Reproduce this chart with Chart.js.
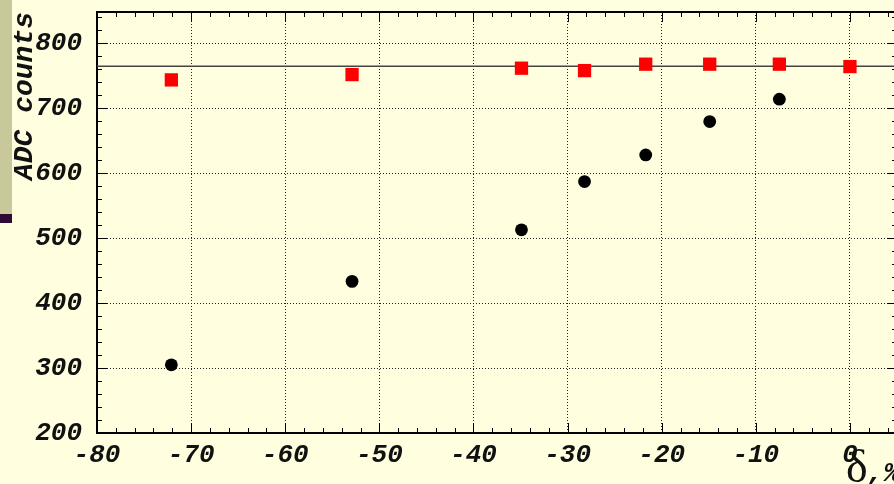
<!DOCTYPE html>
<html>
<head>
<meta charset="utf-8">
<script src="https://cdn.jsdelivr.net/npm/chart.js@4"></script>
<style>
  html, body { margin:0; padding:0; overflow:hidden; background:#ffffe0; }
  #wrap { position:relative; width:900px; height:484px; }
  .strip { position:absolute; left:0; top:0; width:12px; height:214px; background:#c9c89b; }
  .mark { position:absolute; left:0; top:214px; width:12px; height:9px; background:#2e0a36; }
</style>
</head>
<body>
<div id="wrap">
  <canvas id="chart" width="900" height="484" style="width:900px;height:484px"></canvas>
  <div class="strip"></div><div class="mark"></div>
</div>
<script>
// --- data ---
const deltaRed = [-72.1, -52.9, -34.9, -28.2, -21.7, -14.9, -7.5, 0];
const adcRed   = [743.5, 751.7, 761.5, 757.8, 767.7, 767.7, 767.7, 764];
const deltaBlack = [-72.1, -52.9, -34.9, -28.2, -21.7, -14.9, -7.5];
const adcBlack   = [305, 433.4, 512.8, 587, 628, 679.4, 713.8];
const refLevel = 764.6;

// axis ranges
const xMin = -80, xMax = 5;
const yMin = 200, yMax = 848;

const tickFont = { family: 'Liberation Mono', size: 26, style: 'italic', weight: 'bold' };
const titleFont = 'italic bold 28px "Liberation Mono"';

const toPoints = (xs, ys) => xs.map((v, i) => ({ x: v, y: ys[i] }));

// kill the label-overflow padding so the plot box sits where we want it
const noPad = s => { s.getPadding = () => ({ left: 0, right: 0, top: 0, bottom: 0 }); };

// frame, minor/mirrored ticks and axis titles
const framePlugin = {
  id: 'frame',
  afterDraw(chart) {
    const { ctx, chartArea: a, scales: { x, y } } = chart;
    ctx.save();
    ctx.strokeStyle = '#000';
    ctx.lineWidth = 2;
    ctx.beginPath();
    ctx.moveTo(a.left, a.top); ctx.lineTo(a.right, a.top); ctx.lineTo(a.right, a.bottom);
    ctx.stroke();

    ctx.lineWidth = 1;
    ctx.beginPath();
    for (let v = xMin; v <= xMax; v += 2) {
      const px = Math.round(x.getPixelForValue(v)) + 0.5;
      const len = v % 10 === 0 ? 10 : 5;
      ctx.moveTo(px, a.bottom); ctx.lineTo(px, a.bottom - len);
      ctx.moveTo(px, a.top); ctx.lineTo(px, a.top + len);
    }
    for (let v = yMin; v <= yMax; v += 20) {
      const py = Math.round(y.getPixelForValue(v)) + 0.5;
      const len = v % 100 === 0 ? 10 : 5;
      ctx.moveTo(a.left, py); ctx.lineTo(a.left + len, py);
      ctx.moveTo(a.right, py); ctx.lineTo(a.right - len, py);
    }
    ctx.stroke();

    // titles
    ctx.fillStyle = '#111';
    ctx.font = titleFont;
    ctx.save();
    ctx.translate(32, a.top);
    ctx.rotate(-Math.PI / 2);
    ctx.textAlign = 'right';
    ctx.textBaseline = 'alphabetic';
    ctx.fillText('ADC counts', 0, 0);
    ctx.restore();
    ctx.textAlign = 'left';
    ctx.textBaseline = 'alphabetic';
    ctx.font = '46px "Liberation Serif"';
    ctx.fillText('δ', 846, 482);
    ctx.font = titleFont;
    ctx.fillText(',%', 867, 481);
    ctx.restore();
  }
};

new Chart(document.getElementById('chart'), {
  type: 'scatter',
  data: {
    datasets: [
      {
        data: toPoints(deltaRed, adcRed),
        pointStyle: 'rect',
        pointRadius: 9.4,
        pointBackgroundColor: '#ff0000',
        pointBorderWidth: 0,
        order: 0
      },
      {
        data: toPoints(deltaBlack, adcBlack),
        pointStyle: 'circle',
        pointRadius: 6.4,
        pointBackgroundColor: '#000',
        pointBorderWidth: 0,
        order: 0
      },
      {
        type: 'line',
        data: toPoints([xMin, xMax], [refLevel, refLevel]),
        borderColor: '#444',
        borderWidth: 1.5,
        pointRadius: 0,
        order: 2
      }
    ]
  },
  options: {
    responsive: false,
    animation: false,
    layout: { autoPadding: false, padding: { top: 12, right: 3, left: 0, bottom: 0 } },
    plugins: { legend: { display: false }, tooltip: { enabled: false } },
    scales: {
      x: {
        type: 'linear',
        min: xMin, max: xMax,
        afterFit: s => { s.height = 51; noPad(s); },
        afterBuildTicks: s => { s.ticks = s.ticks.filter(t => t.value % 10 === 0); },
        ticks: { stepSize: 10, color: '#111', font: tickFont, padding: 7, maxRotation: 0 },
        grid: { color: '#222', lineWidth: 1, drawTicks: false },
        border: { display: true, color: '#000', width: 2, dash: [1, 2] }
      },
      y: {
        type: 'linear',
        min: yMin, max: yMax,
        afterFit: s => { s.width = 97; noPad(s); },
        afterBuildTicks: s => { s.ticks = s.ticks.filter(t => t.value % 100 === 0); },
        ticks: { stepSize: 100, color: '#111', font: tickFont, padding: 15 },
        grid: { color: '#222', lineWidth: 1, drawTicks: false },
        border: { display: true, color: '#000', width: 2, dash: [1, 2] }
      }
    }
  },
  plugins: [framePlugin]
});
</script>
</body>
</html>
